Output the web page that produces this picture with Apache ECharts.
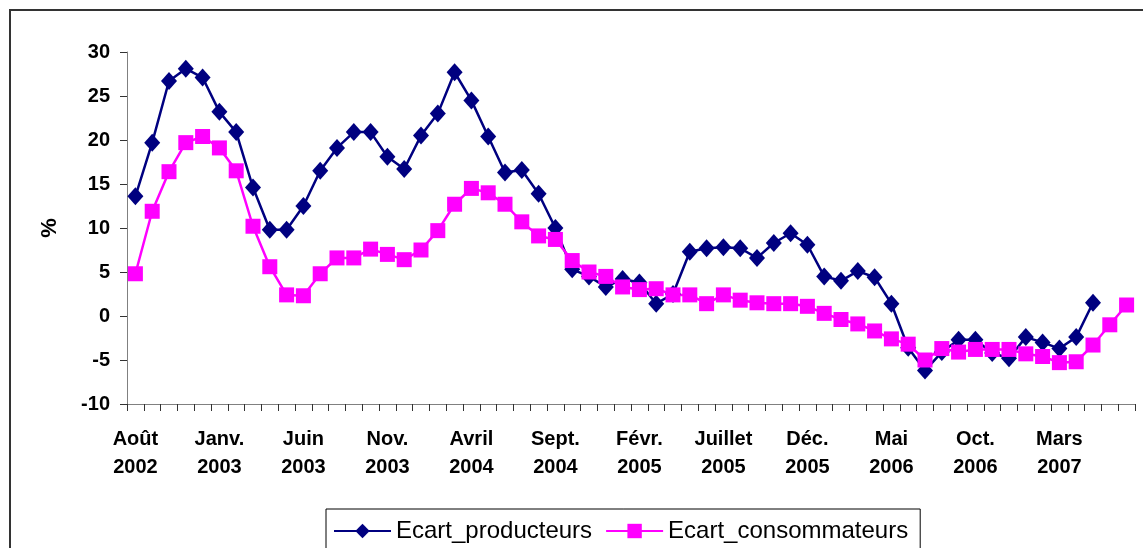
<!DOCTYPE html>
<html>
<head>
<meta charset="utf-8">
<script src="https://cdn.jsdelivr.net/npm/echarts@6/dist/echarts.min.js"></script>
<style>
  html, body { margin: 0; padding: 0; background: #fff; }
  #chart { width: 1143px; height: 548px; }
</style>
</head>
<body>
<div id="chart"></div>
<script>
// mois, août 2002 -> juillet 2007
var monthNames = ["Août", "Sept.", "Oct.", "Nov.", "Déc.", "Janv.", "Févr.", "Mars", "Avril", "Mai", "Juin", "Juillet"];
var startYear = 2002;
var nbMonths = 60;

var ecartProducteurs = [
  13.6, 19.7, 26.7, 28.1, 27.1, 23.2, 20.9, 14.6, 9.8, 9.8,
  12.5, 16.5, 19.1, 20.9, 20.9, 18.1, 16.7, 20.5, 23.0, 27.7,
  24.5, 20.4, 16.3, 16.6, 13.9, 10.0, 5.3, 4.5, 3.3, 4.2,
  3.8, 1.4, 2.5, 7.3, 7.7, 7.8, 7.7, 6.6, 8.3, 9.4,
  8.1, 4.5, 4.0, 5.1, 4.4, 1.4, -3.6, -6.2, -4.1, -2.7,
  -2.7, -4.2, -4.8, -2.4, -3.0, -3.7, -2.4, 1.5, null, null
];
var ecartConsommateurs = [
  4.8, 11.9, 16.4, 19.7, 20.4, 19.1, 16.5, 10.2, 5.6, 2.4,
  2.3, 4.8, 6.6, 6.6, 7.6, 7.0, 6.4, 7.5, 9.7, 12.7,
  14.5, 14.0, 12.7, 10.7, 9.1, 8.7, 6.3, 5.0, 4.5, 3.3,
  3.0, 3.1, 2.4, 2.4, 1.4, 2.4, 1.8, 1.5, 1.4, 1.4,
  1.1, 0.3, -0.4, -0.9, -1.7, -2.6, -3.2, -5.0, -3.7, -4.1,
  -3.8, -3.8, -3.8, -4.3, -4.6, -5.3, -5.2, -3.3, -1.0, 1.25
];

var categories = [];
for (var i = 0; i < nbMonths; i++) {
  var m = i % 12;
  var y = startYear + Math.floor((i + 7) / 12);
  categories.push(monthNames[m] + "\n" + y);
}

var font = "'Liberation Sans', Arial, sans-serif";
var myChart = echarts.init(document.getElementById("chart"));

var option = {
  animation: false,
  backgroundColor: "#fff",
  graphic: [{
    type: "rect",
    shape: { x: 10, y: 10, width: 1200, height: 600 },
    style: { fill: "none", stroke: "#333", lineWidth: 2 },
    silent: true
  }],
  grid: { left: 127, right: 8, top: 52, bottom: 144 },
  legend: {
    left: 326,
    top: 509,
    padding: [10, 12, 10, 7],
    itemGap: 13,
    itemWidth: 57,
    itemHeight: 18,
    borderColor: "#000",
    borderWidth: 1,
    textStyle: { fontFamily: font, fontSize: 24, color: "#000" },
    data: ["Ecart_producteurs", "Ecart_consommateurs"]
  },
  xAxis: {
    type: "category",
    data: categories,
    boundaryGap: true,
    axisLine: { onZero: false, lineStyle: { color: "#808080", width: 1 } },
    axisTick: { show: true, interval: 0, length: 7, lineStyle: { color: "#333", width: 1 } },
    axisLabel: {
      interval: 4,
      margin: 21,
      lineHeight: 28,
      fontFamily: font,
      fontWeight: "bold",
      fontSize: 20,
      color: "#000"
    },
    splitLine: { show: false }
  },
  yAxis: {
    type: "value",
    min: -10,
    max: 30,
    interval: 5,
    name: "%",
    nameLocation: "middle",
    nameGap: 66,
    nameTextStyle: { fontFamily: font, fontWeight: "bold", fontSize: 22, color: "#000" },
    axisLine: { show: true, lineStyle: { color: "#808080", width: 1 } },
    axisTick: { show: true, length: 7, lineStyle: { color: "#333" } },
    axisLabel: {
      margin: 17,
      fontFamily: font,
      fontWeight: "bold",
      fontSize: 20,
      color: "#000"
    },
    splitLine: { show: false }
  },
  series: [
    {
      name: "Ecart_producteurs",
      type: "line",
      data: ecartProducteurs,
      showAllSymbol: true,
      symbol: "diamond",
      symbolSize: [16, 18],
      color: "#000080",
      lineStyle: { color: "#000080", width: 2.5 },
      itemStyle: { color: "#000080" }
    },
    {
      name: "Ecart_consommateurs",
      type: "line",
      data: ecartConsommateurs,
      showAllSymbol: true,
      symbol: "rect",
      symbolSize: 15,
      color: "#ff00ff",
      lineStyle: { color: "#ff00ff", width: 2.5 },
      itemStyle: { color: "#ff00ff" }
    }
  ]
};

myChart.setOption(option);
</script>
</body>
</html>
